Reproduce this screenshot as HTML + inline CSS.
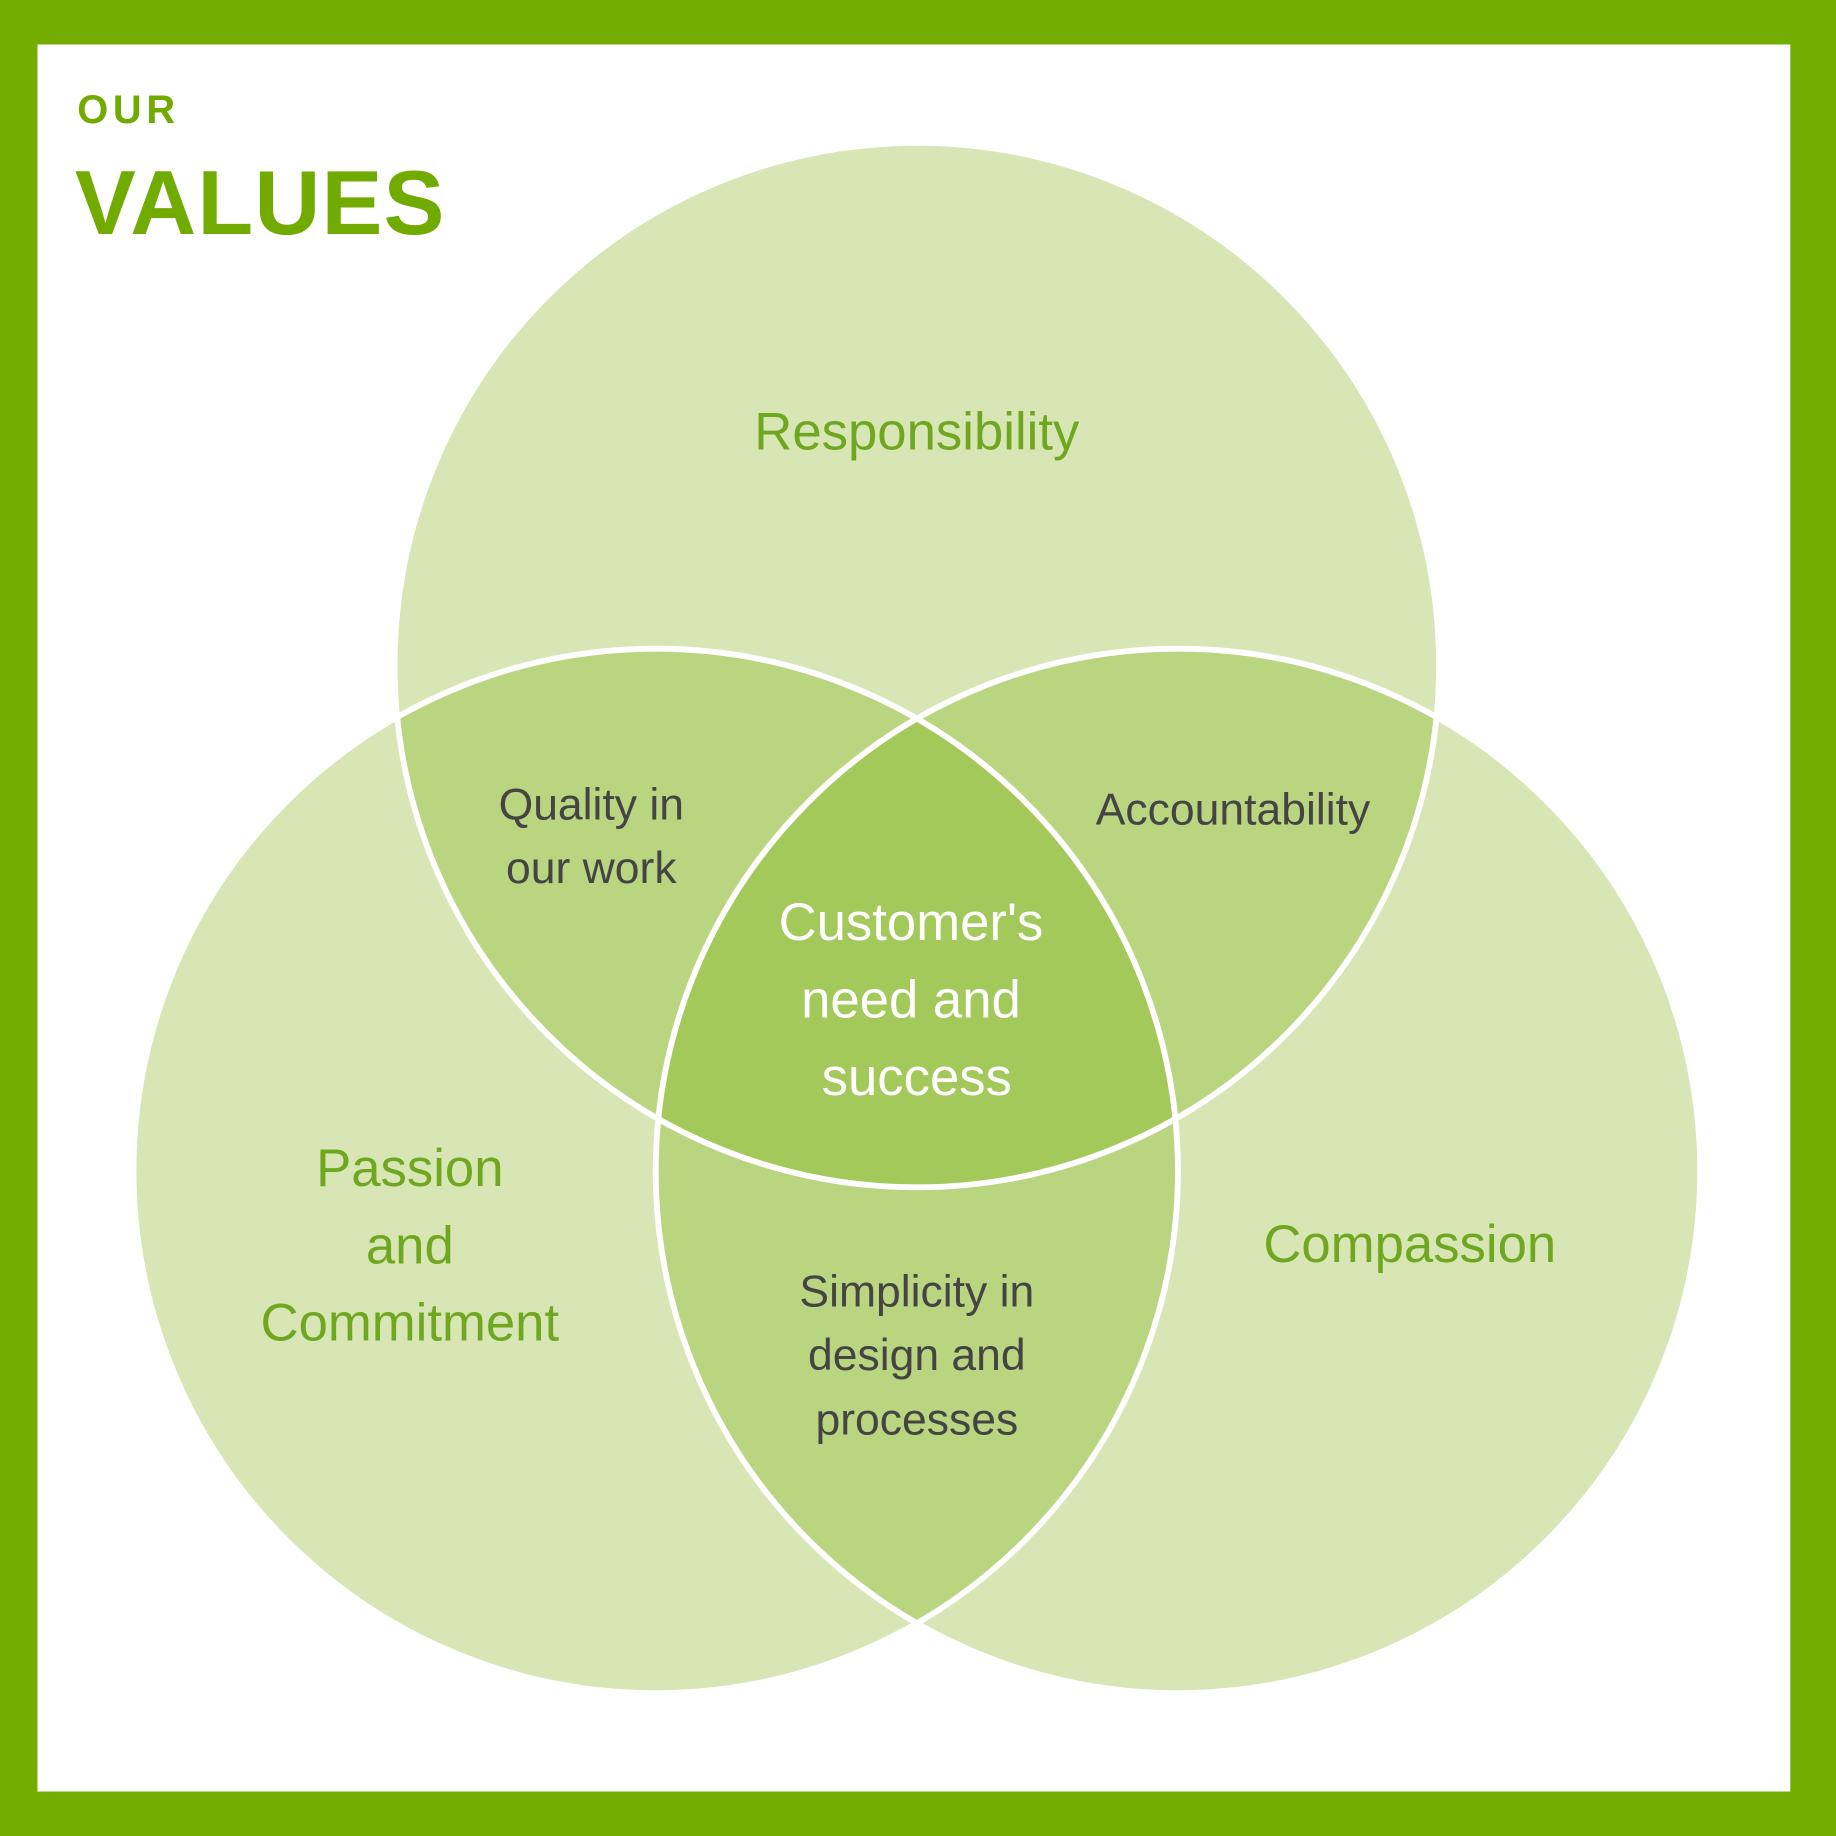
<!DOCTYPE html>
<html><head><meta charset="utf-8"><style>html,body{margin:0;padding:0;background:#fff}svg{display:block}</style></head>
<body>
<svg width="1836" height="1836" viewBox="0 0 1568 1568" xmlns="http://www.w3.org/2000/svg" font-family="'Liberation Sans', sans-serif">
<defs>
<clipPath id="cT"><circle cx="783" cy="568" r="446"/></clipPath>
<clipPath id="cL"><circle cx="560" cy="1000" r="446"/></clipPath>
<clipPath id="cR"><circle cx="1006" cy="1000" r="446"/></clipPath>
</defs>
<rect x="0" y="0" width="1568" height="1568" fill="#72ad00"/>
<rect x="32" y="38" width="1497" height="1492" fill="#fff"/>
<circle cx="783" cy="568" r="446" fill="#d7e6b4"/>
<circle cx="560" cy="1000" r="446" fill="#d7e6b4"/>
<circle cx="1006" cy="1000" r="446" fill="#d7e6b4"/>
<g clip-path="url(#cT)"><circle cx="560" cy="1000" r="446" fill="#b9d580"/><circle cx="1006" cy="1000" r="446" fill="#b9d580"/></g>
<g clip-path="url(#cL)"><circle cx="1006" cy="1000" r="446" fill="#b9d580"/></g>
<g clip-path="url(#cL)"><g clip-path="url(#cR)"><circle cx="783" cy="568" r="446" fill="#a4c95b"/></g></g>
<g fill="none" stroke="#fff" stroke-width="5">
<circle cx="783" cy="568" r="446"/><circle cx="560" cy="1000" r="446"/><circle cx="1006" cy="1000" r="446"/>
</g>
<text x="66" y="105" font-size="34" font-weight="bold" fill="#72ab00" letter-spacing="4">OUR</text>
<text x="64" y="200" font-size="78" font-weight="bold" fill="#72ab00" letter-spacing="1">VALUES</text>
<g text-anchor="middle">
<text x="783" y="384" font-size="45" fill="#6fa820">Responsibility</text>
<text x="350" y="1013" font-size="45" fill="#6fa820">Passion</text>
<text x="350" y="1079" font-size="45" fill="#6fa820">and</text>
<text x="350" y="1145" font-size="45" fill="#6fa820">Commitment</text>
<text x="1204" y="1078" font-size="45" fill="#6fa820">Compassion</text>
<text x="505" y="700" font-size="38" fill="#444">Quality in</text>
<text x="505" y="754" font-size="38" fill="#444">our work</text>
<text x="1053" y="704" font-size="38" fill="#444">Accountability</text>
<text x="783" y="1116" font-size="38" fill="#444">Simplicity in</text>
<text x="783" y="1170" font-size="38" fill="#444">design and</text>
<text x="783" y="1225" font-size="38" fill="#444">processes</text>
<text x="778" y="803" font-size="45" fill="#fff">Customer's</text>
<text x="778" y="869" font-size="45" fill="#fff">need and</text>
<text x="783" y="935" font-size="45" fill="#fff">success</text>
</g>
</svg>
</body></html>
